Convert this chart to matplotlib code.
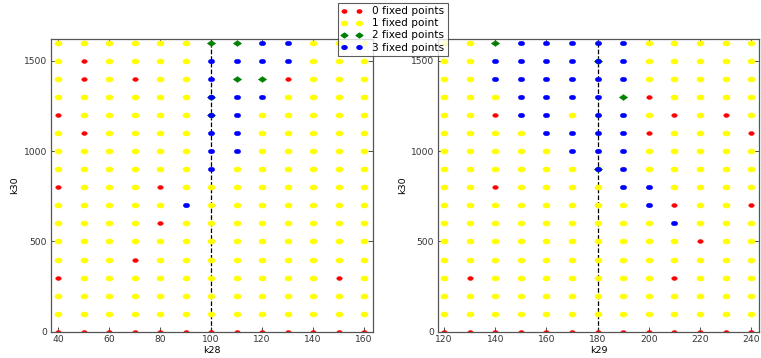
import numpy as np
import matplotlib
matplotlib.use("Agg")
import matplotlib.pyplot as plt  # noqa: E402
from matplotlib.lines import Line2D  # noqa: E402
from matplotlib.path import Path  # noqa: E402

# number of fixed points per grid cell, rows from k30=1600 down to k30=0
# '0'..'3' = count, 'b' = both 2 and 3 plotted on the same cell
k30_vals = list(range(1600, -1, -100))

k28_vals = list(range(40, 161, 10))
grid_k28 = [
    "1111112233111",
    "1011113333111",
    "1010113220111",
    "111111b331111",
    "011111b311111",
    "1011113311111",
    "1111113311111",
    "1111113111111",
    "0111011111111",
    "1111131111111",
    "1111011111111",
    "1111111111111",
    "1110111111111",
    "0111111111101",
    "1111111111111",
    "1111111111111",
    "0000000000000",
]

k29_vals = list(range(120, 241, 10))
grid_k29 = [
    "1123333311111",
    "113333b311111",
    "1133333311111",
    "1113333201111",
    "1103313310101",
    "1111333301110",
    "1111133311111",
    "111111b311111",
    "1101111331111",
    "1111111130110",
    "1111111113111",
    "1111111111011",
    "1111111111111",
    "1011111110111",
    "1111111111111",
    "1111111111111",
    "0000000000000",
]

ref_k28 = 100
ref_k29 = 180

labels = ["0 fixed points", "1 fixed point", "2 fixed points", "3 fixed points"]

# slightly wide ellipse, the source picture is stretched sideways
t = np.linspace(0, 2 * np.pi, 40)
ell = Path(np.column_stack([1.4 * np.cos(t), np.sin(t)]), closed=True)
t4 = np.array([0, 0.5, 1, 1.5, 0]) * np.pi
dia = Path(np.column_stack([1.4 * np.cos(t4), np.sin(t4)]), closed=True)

style = {
    "0": dict(color="red", marker=ell, ms=4.0),
    "1": dict(color="yellow", marker=ell, ms=5.2),
    "2": dict(color="green", marker=dia, ms=6.0),
    "3": dict(color="blue", marker=ell, ms=4.6),
}


def points(grid, xs, code):
    px, py = [], []
    for r, row in enumerate(grid):
        for c, ch in enumerate(row):
            if ch == code or (ch == "b" and code in "23"):
                px.append(xs[c]); py.append(k30_vals[r])
    return px, py


def panel(ax, grid, xs, ref, xlabel, xlim):
    ax.axvline(ref, color="black", ls="--", lw=0.9, zorder=1)
    for code in "0123":
        px, py = points(grid, xs, code)
        s = style[code]
        ax.plot(px, py, ls="none", marker=s["marker"], ms=s["ms"],
                mfc=s["color"], mec=s["color"], mew=0.3, zorder=2, clip_on=True)
    ax.set_xlim(*xlim); ax.set_ylim(0, 1620)
    ax.set_xticks(xs[::2]); ax.set_yticks([0, 500, 1000, 1500])
    ax.set_xlabel(xlabel, fontsize=6.8, labelpad=1)
    ax.set_ylabel("k30", fontsize=6.8, labelpad=3)
    ax.tick_params(direction="in", length=3.5, width=0.6, labelsize=6.6,
                   top=True, right=True, pad=2.5, colors="#333333")
    for sp in ax.spines.values():
        sp.set_color("#555555"); sp.set_linewidth(0.9)


fig = plt.figure(figsize=(7.61, 3.58), dpi=100)
ax1 = fig.add_axes([50.6 / 761, 1 - 331.7 / 358, 322.1 / 761, 292.4 / 358])
ax2 = fig.add_axes([437.7 / 761, 1 - 331.7 / 358, 321.6 / 761, 292.4 / 358])
panel(ax1, grid_k28, k28_vals, ref_k28, "k28", (37.0, 163.4))
panel(ax2, grid_k29, k29_vals, ref_k29, "k29", (117.5, 243.2))

handles = [Line2D([], [], ls="none", marker=style[c]["marker"], ms=style[c]["ms"] * 0.8,
                  mfc=style[c]["color"], mec=style[c]["color"]) for c in "0123"]
leg = fig.legend(handles, labels, loc="upper center", bbox_to_anchor=(0.516, 0.993),
                 numpoints=2, fontsize=7.6, frameon=True, fancybox=False,
                 borderpad=0.35, labelspacing=0.2, handlelength=2.0,
                 handletextpad=0.9, borderaxespad=0)
leg.get_frame().set_edgecolor("#333333"); leg.get_frame().set_linewidth(0.8)

fig.savefig("out.png", dpi=100)
